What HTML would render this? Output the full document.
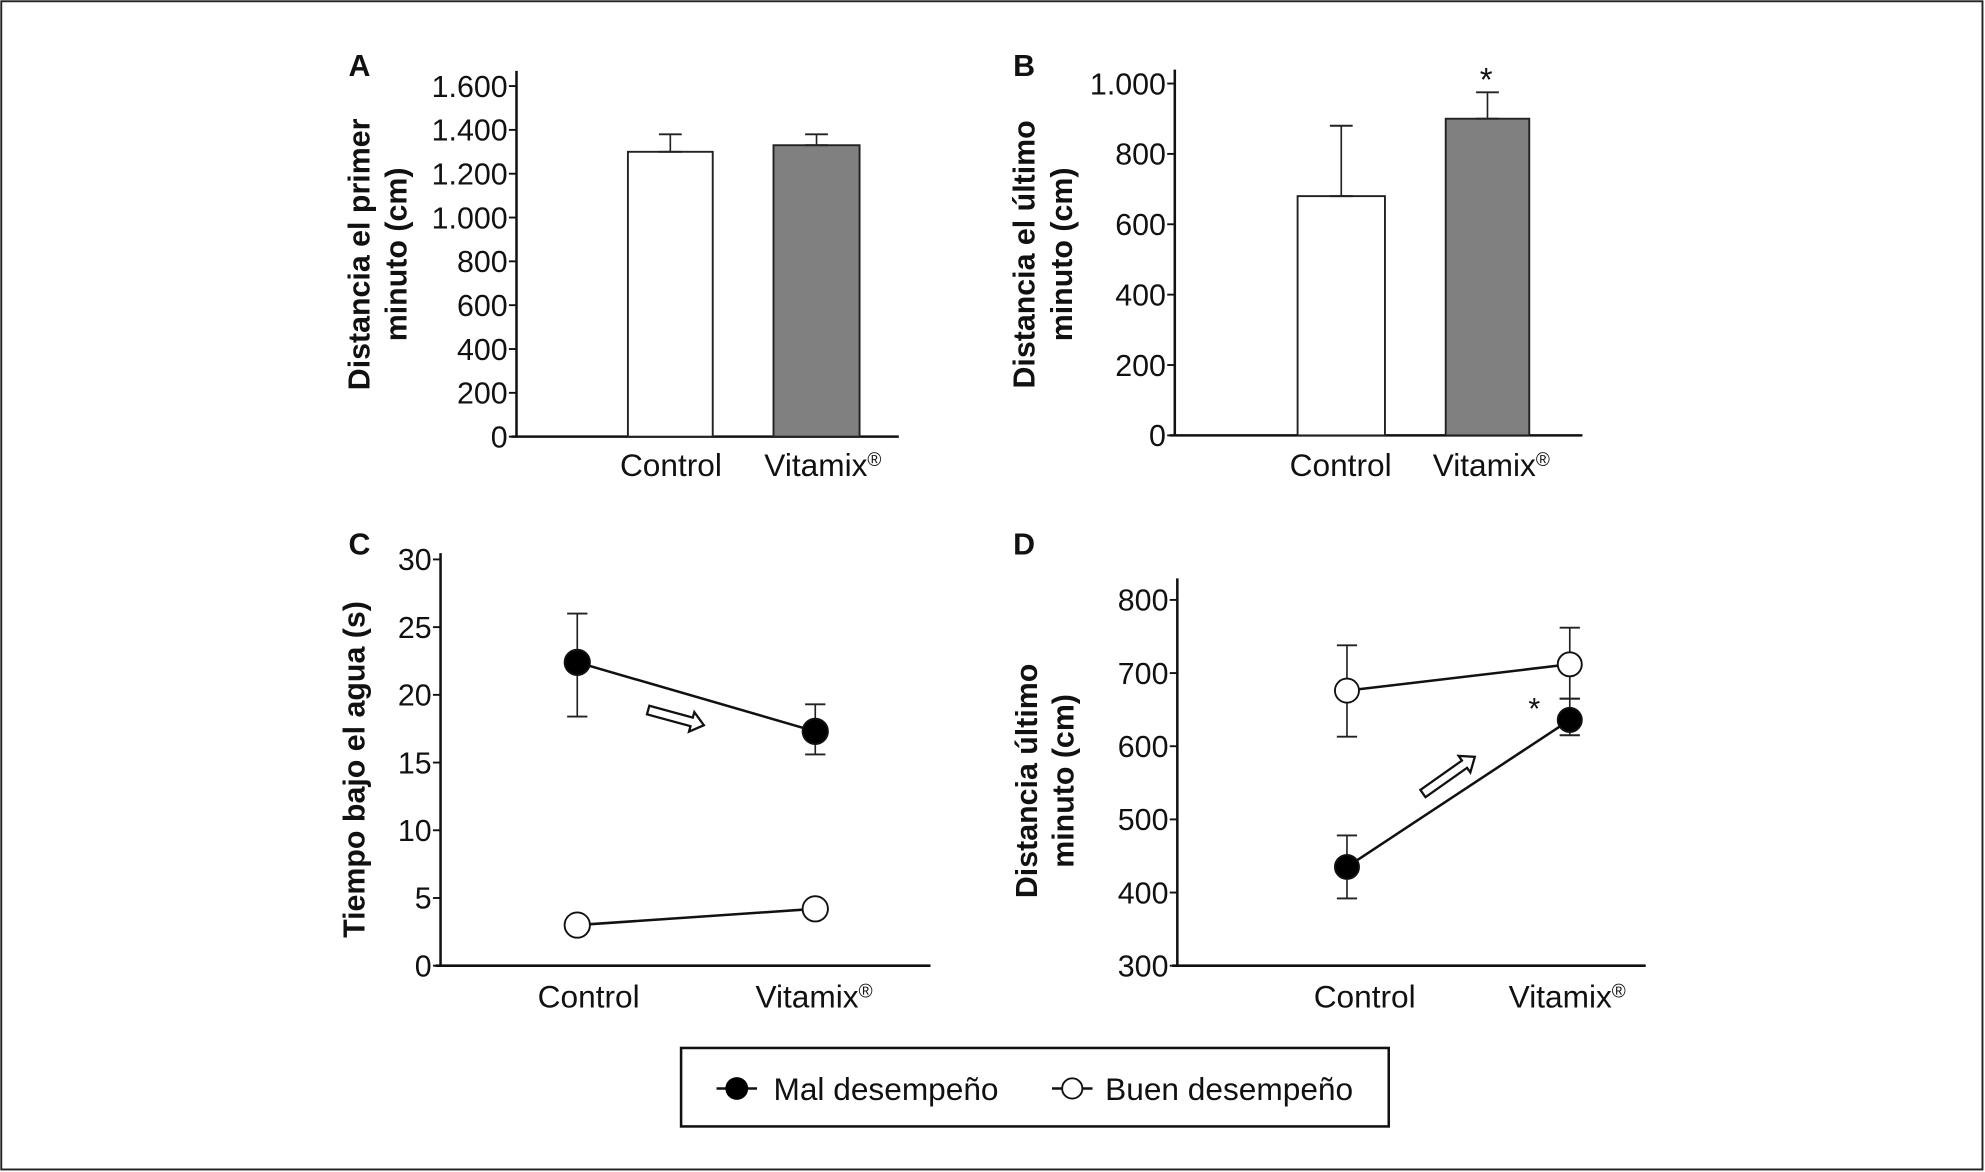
<!DOCTYPE html>
<html><head><meta charset="utf-8"><style>
html,body{margin:0;padding:0;background:#fff}
svg{display:block;font-family:"Liberation Sans",Arial,sans-serif}
</style></head><body>
<svg id="fig" width="1985" height="1172" viewBox="0 0 1568 926" preserveAspectRatio="none" xmlns="http://www.w3.org/2000/svg">
<rect x="1" y="1" width="1565" height="923" fill="#fff" stroke="#222" stroke-width="1.5"/>
<g id="root"></g>
</svg>
<script>
const categories = ["Control", "Vitamix®"];
const aValues = [1300, 1330];
const aErrors = [1380, 1380];
const aTicks = [0,200,400,600,800,1000,1200,1400,1600];
const aTickLabels = ["0","200","400","600","800","1.000","1.200","1.400","1.600"];
const bValues = [680, 900];
const bErrors = [880, 975];
const bTicks = [0,200,400,600,800,1000];
const bTickLabels = ["0","200","400","600","800","1.000"];
const cMal = [22.4, 17.3];
const cMalHi = [26, 19.3];
const cMalLo = [18.4, 15.6];
const cBuen = [3.0, 4.2];
const cTicks = [0,5,10,15,20,25,30];
const dMal = [435, 636];
const dMalHi = [478, 665];
const dMalLo = [392, 615];
const dBuen = [676, 712];
const dBuenHi = [738, 762];
const dBuenLo = [613, 665];
const dTicks = [300,400,500,600,700,800];

const NS = "http://www.w3.org/2000/svg";
const root = document.getElementById("root");
function el(tag, attrs, parent, text){
  const e = document.createElementNS(NS, tag);
  for (const k in attrs) e.setAttribute(k, attrs[k]);
  if (text !== undefined) e.textContent = text;
  (parent || root).appendChild(e);
  return e;
}
function lin(d0,d1,r0,r1){ return v => r0 + (v-d0)/(d1-d0)*(r1-r0); }

function axes(p){
  const g = el("g", {});
  
  
  const y = p.y;
  let ax = el("line",{x1:p.ax,y1:p.top,x2:p.ax,y2:p.base,stroke:"#111","stroke-width":2},g);
  
  
  let bx = el("line",{x1:p.ax-4,y1:p.base,x2:p.xend,y2:p.base,stroke:"#111","stroke-width":2},g);
  
  
  p.ticks.forEach((t,i)=>{
    const yy = y(t);
    el("line",{x1:p.ax-6,y1:yy,x2:p.ax,y2:yy,stroke:"#111","stroke-width":1.5},g);
    const tx = el("text",{x:p.ax-7,y:yy+8.5,"text-anchor":"end","font-size":24,fill:"#111"},g,p.labels?p.labels[i]:String(t));
    
    
  });
  categories.forEach((c,i)=>{
    const t = el("text",{x:p.cx[i],y:p.catY,"text-anchor":"middle","font-size":25,fill:"#111"},g);
    
    
    if (c.endsWith("®")){
      t.textContent = c.slice(0,-1);
      el("tspan",{"font-size":15,dy:-8},t,"®");
    } else t.textContent = c;
  });
  const L = el("text",{x:p.letter[0],y:p.letter[1],"font-size":24,"font-weight":"bold",fill:"#111","text-anchor":"middle"},g,p.letterText);
  
  
  p.title.forEach((line,i)=>{
    const tx = p.titleX[i];
    const t = el("text",{x:tx,y:p.titleY,"font-size":24,"font-weight":"bold",fill:"#111","text-anchor":"middle",transform:`rotate(-90 ${tx} ${p.titleY})`,dy:9},g,line);
    
    
  });
  return g;
}
function errbar(g,x,hi,lo,w){
  el("line",{x1:x,y1:hi,x2:x,y2:lo,stroke:"#222","stroke-width":1.3},g);
  el("line",{x1:x-w,y1:hi,x2:x+w,y2:hi,stroke:"#222","stroke-width":1.5},g);
  if (lo!==null) el("line",{x1:x-w,y1:lo,x2:x+w,y2:lo,stroke:"#222","stroke-width":1.5},g);
}

// Panel A
{
  const y = lin(0,1600,345,68);
  const p = {name:"panel-a",ax:408,top:56,base:345,xend:710,y,ticks:aTicks,labels:aTickLabels,cx:[530,650],catY:376,
    letter:[284,60],letterText:"A",title:["Distancia el primer","minuto (cm)"],titleX:[283,312],titleY:201};
  const g = axes(p);
  const xs = [[496,563],[611,679]];
  aValues.forEach((v,i)=>{
    const r = el("rect",{x:xs[i][0],y:y(v),width:xs[i][1]-xs[i][0],height:345-y(v),fill:i?"#808080":"#fff",stroke:"#222","stroke-width":1.5},g);
    
    
    const mx=(xs[i][0]+xs[i][1])/2;
    errbar(g,mx,y(aErrors[i]),y(v),9);
  });
}
// Panel B
{
  const y = lin(0,1000,344,66);
  const p = {name:"panel-b",ax:928,top:55,base:344,xend:1250,y,ticks:bTicks,labels:bTickLabels,cx:[1059,1178],catY:376,
    letter:[809,60],letterText:"B",title:["Distancia el último","minuto (cm)"],titleX:[808,838],titleY:201};
  const g = axes(p);
  const xs = [[1025,1094],[1142,1208]];
  bValues.forEach((v,i)=>{
    const r = el("rect",{x:xs[i][0],y:y(v),width:xs[i][1]-xs[i][0],height:344-y(v),fill:i?"#808080":"#fff",stroke:"#222","stroke-width":1.5},g);
    
    
    const mx=(xs[i][0]+xs[i][1])/2;
    errbar(g,mx,y(bErrors[i]),y(v),9);
  });
  const s = el("text",{x:1174,y:72,"text-anchor":"middle","font-size":26,fill:"#111"},g,"*");
  
  
}
function series(g,xs,y,vals,filled,r,name){
  const ln = el("line",{x1:xs[0],y1:y(vals[0]),x2:xs[1],y2:y(vals[1]),stroke:"#111","stroke-width":2},g);
  
  
  vals.forEach((v,i)=>{
    const c = el("circle",{cx:xs[i],cy:y(v),r:r,fill:filled?"#000":"#fff",stroke:"#111","stroke-width":1.5},g);
    
    
  });
}
function arrow(g,x1,y1,x2,y2){
  const a = Math.atan2(y2-y1,x2-x1), L = Math.hypot(x2-x1,y2-y1);
  const pts = [[0,-3.5],[L-10,-3.5],[L-10,-8],[L,0],[L-10,8],[L-10,3.5],[0,3.5]];
  const s = pts.map(([u,v])=>[x1+u*Math.cos(a)-v*Math.sin(a), y1+u*Math.sin(a)+v*Math.cos(a)].join(",")).join(" ");
  const p = el("polygon",{points:s,fill:"#fff",stroke:"#111","stroke-width":1.8},g);
  
  
}
// Panel C
{
  const y = lin(0,30,763,442);
  const cx=[456,644];
  const p = {name:"panel-c",ax:348,top:437,base:763,xend:735,y,ticks:cTicks,cx:[465,643],catY:796,
    letter:[284,438],letterText:"C",title:["Tiempo bajo el agua (s)"],titleX:[279],titleY:608};
  const g = axes(p);
  cx.forEach((x,i)=>errbar(g,x,y(cMalHi[i]),y(cMalLo[i]),8));
  series(g,cx,y,cMal,true,10,"mal-desempeno");
  series(g,cx,y,cBuen,false,10,"buen-desempeno");
  arrow(g,512,561,556,573);
}
// Panel D
{
  const y = lin(300,800,763,474);
  const cx=[1064,1240];
  const p = {name:"panel-d",ax:930,top:457,base:763,xend:1300,y,ticks:dTicks,cx:[1078,1238],catY:796,
    letter:[809,438],letterText:"D",title:["Distancia último","minuto (cm)"],titleX:[810,839],titleY:617};
  const g = axes(p);
  cx.forEach((x,i)=>{errbar(g,x,y(dBuenHi[i]),y(dBuenLo[i]),8);errbar(g,x,y(dMalHi[i]),y(dMalLo[i]),8);});
  series(g,cx,y,dBuen,false,9.5,"buen-desempeno");
  series(g,cx,y,dMal,true,9.5,"mal-desempeno");
  arrow(g,1124,627,1165,598);
  const s = el("text",{x:1212,y:568,"text-anchor":"middle","font-size":24,fill:"#111"},g,"*");
  
  
}
// Legend
{
  const g = el("g",{});
  
  
  el("rect",{x:538,y:828,width:559,height:62,fill:"#fff",stroke:"#111","stroke-width":2},g);
  const e1 = el("g",{},g);
  
  
  el("line",{x1:566,y1:860,x2:598,y2:860,stroke:"#111","stroke-width":2},e1);
  el("circle",{cx:582,cy:860,r:9,fill:"#000"},e1);
  el("text",{x:611,y:869,"font-size":25,fill:"#111"},e1,"Mal desempeño");
  const e2 = el("g",{},g);
  
  
  el("line",{x1:831,y1:860,x2:863,y2:860,stroke:"#111","stroke-width":2},e2);
  el("circle",{cx:847,cy:860,r:8,fill:"#fff",stroke:"#111","stroke-width":1.5},e2);
  el("text",{x:873,y:869,"font-size":25,fill:"#111"},e2,"Buen desempeño");
}
</script>
</body></html>
